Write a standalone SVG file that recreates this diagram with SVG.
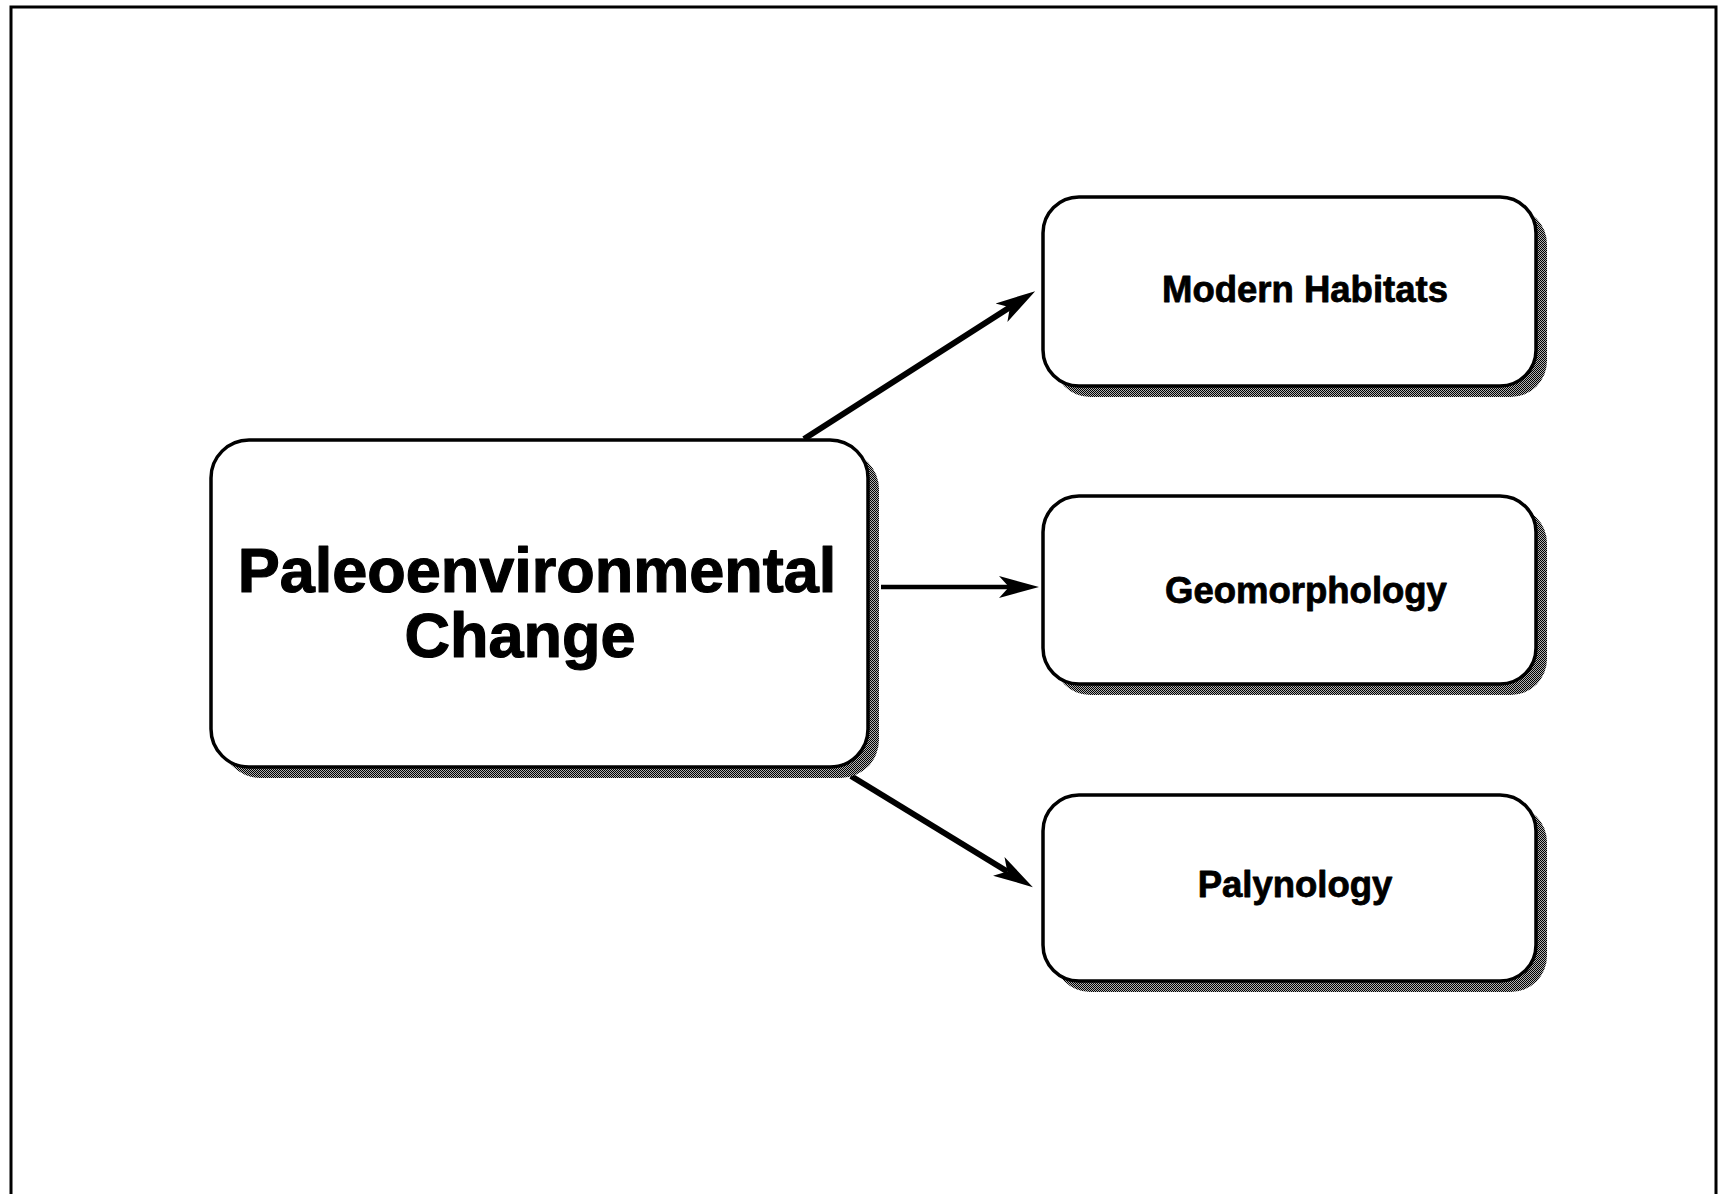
<svg xmlns="http://www.w3.org/2000/svg" width="1718" height="1194" viewBox="0 0 1718 1194">
<style>
.box{fill:#fff;stroke:#000;stroke-width:3.5}
.shadow{fill:url(#dither)}
.lbl{font-family:"Liberation Sans",Arial,Helvetica,sans-serif;font-weight:bold;fill:#000;stroke:#000;stroke-linejoin:round}
.conn{stroke:#000;fill:none;stroke-linecap:butt}
</style>
<defs>
<pattern id="dither" width="2" height="2" patternUnits="userSpaceOnUse">
<rect width="2" height="2" fill="#b0b0b0"/>
<rect x="0" y="0" width="1" height="1" fill="#000"/>
<rect x="1" y="1" width="1" height="1" fill="#000"/>
</pattern>
<marker id="ah" viewBox="0 -12 41 24" refX="10" refY="0" markerWidth="41" markerHeight="24" markerUnits="userSpaceOnUse" orient="auto">
<path d="M0,-11 L40,0 L0,11 L10,0 Z" fill="#000"/>
</marker>
</defs>
<rect width="1718" height="1194" fill="#fff"/>
<g id="frame">
<path d="M11,1194 L11,7 L1716,7 L1716,1194" fill="none" stroke="#000" stroke-width="3"/>
</g>
<g id="connectors">
<line class="conn" x1="804" y1="439" x2="1009.9" y2="307.3" stroke-width="6" marker-end="url(#ah)"/>
<line class="conn" x1="881" y1="587" x2="1009" y2="587" stroke-width="4.5" marker-end="url(#ah)"/>
<line class="conn" x1="851" y1="776" x2="1007.3" y2="871.5" stroke-width="6" marker-end="url(#ah)"/>
</g>
<g id="node-paleo">
<rect class="shadow" x="222" y="451" width="657" height="327" rx="38"/>
<rect class="box" x="211" y="440" width="657" height="327" rx="38"/>
<text class="lbl" x="537" y="592" font-size="63" stroke-width="1.2" text-anchor="middle">Paleoenvironmental</text>
<text class="lbl" x="520" y="657" font-size="63" stroke-width="1.2" text-anchor="middle">Change</text>
</g>
<g id="node-modern">
<rect class="shadow" x="1054" y="208" width="493" height="189" rx="36"/>
<rect class="box" x="1043" y="197" width="493" height="189" rx="36"/>
<text class="lbl" x="1305" y="302" font-size="36.5" stroke-width="0.8" text-anchor="middle">Modern Habitats</text>
</g>
<g id="node-geo">
<rect class="shadow" x="1054" y="507" width="493" height="188" rx="36"/>
<rect class="box" x="1043" y="496" width="493" height="188" rx="36"/>
<text class="lbl" x="1306" y="603" font-size="36.5" stroke-width="0.8" text-anchor="middle">Geomorphology</text>
</g>
<g id="node-paly">
<rect class="shadow" x="1054" y="806" width="493" height="186" rx="36"/>
<rect class="box" x="1043" y="795" width="493" height="186" rx="36"/>
<text class="lbl" x="1295" y="897" font-size="36.5" stroke-width="0.8" text-anchor="middle">Palynology</text>
</g>
</svg>
